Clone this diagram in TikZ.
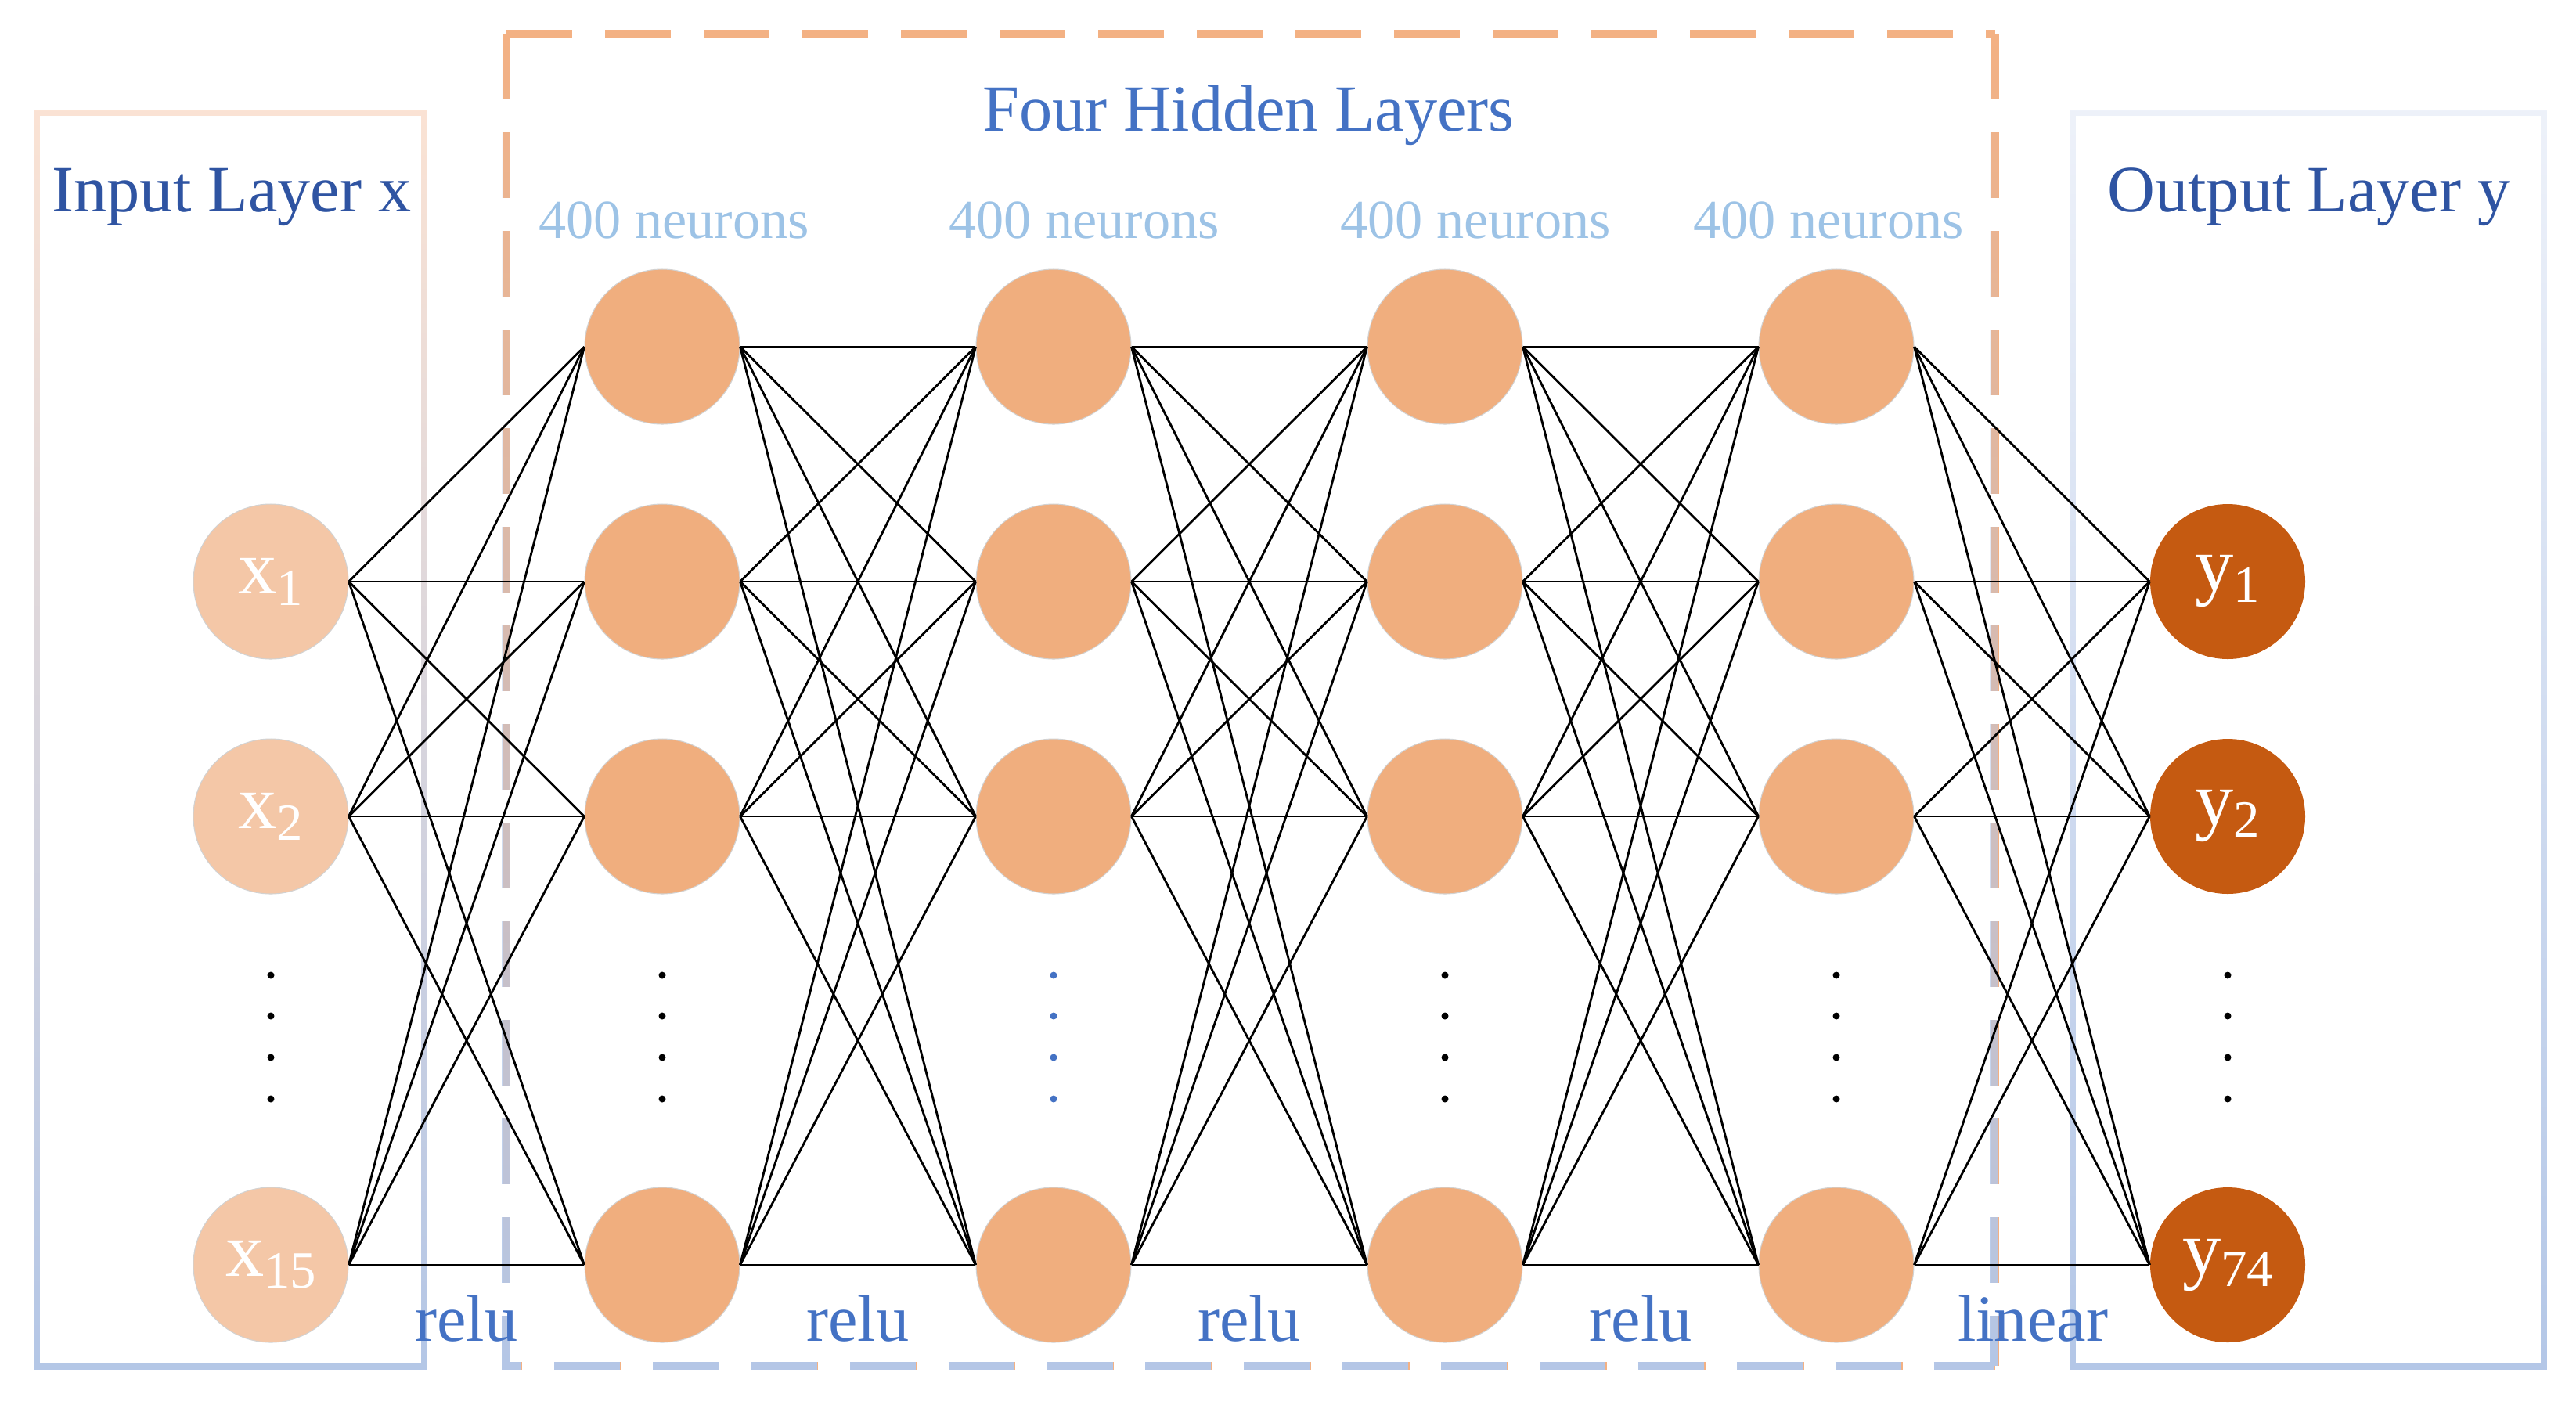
\documentclass[tikz,border=0pt]{standalone}
\usepackage{fontspec}
\setmainfont{Liberation Serif}
\usetikzlibrary{fadings}

\definecolor{inputfill}{HTML}{F4C7A7}
\definecolor{hiddenfill}{HTML}{F0AE7E}
\definecolor{outputfill}{HTML}{C55A11}
\definecolor{boxorange}{HTML}{F4B183}
\definecolor{boxpeach}{HTML}{FBE3D4}
\definecolor{boxlilac}{HTML}{EEF2FA}
\definecolor{boxblue}{HTML}{B4C7E7}
\definecolor{titleblue}{HTML}{2F54A2}
\definecolor{labelblue}{HTML}{4472C4}
\definecolor{countblue}{HTML}{9DC3E6}

\tikzfading[name=fade in south, top color=transparent!100, bottom color=transparent!0]

\newcommand{\nsub}[1]{\raisebox{-0.15cm}{\fontsize{19}{19}\selectfont #1}}

\begin{document}
\begin{tikzpicture}[
    neuron/.style={circle, minimum size=1.98cm, inner sep=0pt, text=white,
                   font=\fontsize{28}{30}\selectfont},
    innode/.style={neuron, fill=inputfill, draw=gray!35, line width=0.3pt},
    hidnode/.style={neuron, fill=hiddenfill, draw=gray!35, line width=0.3pt},
    outnode/.style={neuron, fill=outputfill},
    link/.style={black, line width=0.8pt},
    layerframe/.style={line width=0.08cm},
    hidframe/.style={line width=0.1cm, dash pattern=on 0.84cm off 0.42cm},
    title/.style={font=\fontsize{24}{28}\selectfont, anchor=base},
    count/.style={font=\fontsize{20}{24}\selectfont, text=countblue, anchor=base},
    act/.style={font=\fontsize{24}{28}\selectfont, text=labelblue, anchor=base}
]
    \useasboundingbox (0,0) rectangle (32.91,-18.03);

    % Input and output frames
    \draw[layerframe, boxpeach] (0.47,-1.44) rectangle (5.42,-17.45);
    \draw[layerframe, boxblue, path fading=fade in south] (0.47,-1.44) rectangle (5.42,-17.45);
    \draw[layerframe, boxlilac] (26.48,-1.44) rectangle (32.50,-17.45);
    \draw[layerframe, boxblue, path fading=fade in south] (26.48,-1.44) rectangle (32.50,-17.45);

    % Dashed frame round the hidden layers
    \coordinate (TL) at (6.47,-0.43);
    \coordinate (TR) at (25.49,-0.43);
    \coordinate (BL) at (6.47,-17.45);
    \coordinate (BR) at (25.49,-17.45);
    \draw[hidframe, boxorange] (TL) -- (BL) -- (BR) (TL) -- (TR) (TR) -- (BR);
    \draw[hidframe, boxblue, path fading=fade in south] (TL) -- (BL) -- (BR) (TL) -- (TR) (TR) -- (BR);

    % Input layer
    \node[innode] (x1) at (3.46,-7.43) {x\nsub{1}};
    \node[innode] (x2) at (3.46,-10.43) {x\nsub{2}};
    \node[innode] (x3) at (3.46,-16.16) {x\nsub{15}};

    % Hidden layers
    \foreach \l/\xx in {1/8.46, 2/13.46, 3/18.46, 4/23.46}
      \foreach \r/\yy in {1/-4.43, 2/-7.43, 3/-10.43, 4/-16.16}
        \node[hidnode] (h\l\r) at (\xx,\yy) {};

    % Output layer
    \node[outnode] (y1) at (28.46,-7.43) {y\nsub{1}};
    \node[outnode] (y2) at (28.46,-10.43) {y\nsub{2}};
    \node[outnode] (y3) at (28.46,-16.16) {y\nsub{74}};

    % Connections
    \foreach \i in {x1,x2,x3}
      \foreach \j in {1,...,4}
        \draw[link] (\i.east) -- (h1\j.west);
    \foreach \l/\m in {1/2, 2/3, 3/4}
      \foreach \i in {1,...,4}
        \foreach \j in {1,...,4}
          \draw[link] (h\l\i.east) -- (h\m\j.west);
    \foreach \i in {1,...,4}
      \foreach \j in {y1,y2,y3}
        \draw[link] (h4\i.east) -- (\j.west);

    % Vertical dots
    \foreach \xx in {3.46, 8.46, 18.46, 23.46, 28.46}
      \foreach \yy in {-12.46, -12.98, -13.51, -14.04}
        \fill (\xx,\yy) circle (0.045);
    \foreach \yy in {-12.46, -12.98, -13.51, -14.04}
      \fill[labelblue] (13.46,\yy) circle (0.045);

    % Titles
    \node[title, text=titleblue] (inlabel) at (2.96,-2.70) {Input Layer x};
    \node[title, text=titleblue] (outlabel) at (29.50,-2.70) {Output Layer y};
    \node[title, text=labelblue] (hidlabel) at (15.95,-1.67) {Four Hidden Layers};

    % Neuron counts
    \node[count] (n1) at (8.61,-3.04) {400 neurons};
    \node[count] (n2) at (13.85,-3.04) {400 neurons};
    \node[count] (n3) at (18.85,-3.04) {400 neurons};
    \node[count] (n4) at (23.36,-3.04) {400 neurons};

    % Activations
    \node[act] (a1) at (5.96,-17.13) {relu};
    \node[act] (a2) at (10.96,-17.13) {relu};
    \node[act] (a3) at (15.96,-17.13) {relu};
    \node[act] (a4) at (20.96,-17.13) {relu};
    \node[act] (a5) at (25.97,-17.13) {linear};
\end{tikzpicture}
\end{document}
